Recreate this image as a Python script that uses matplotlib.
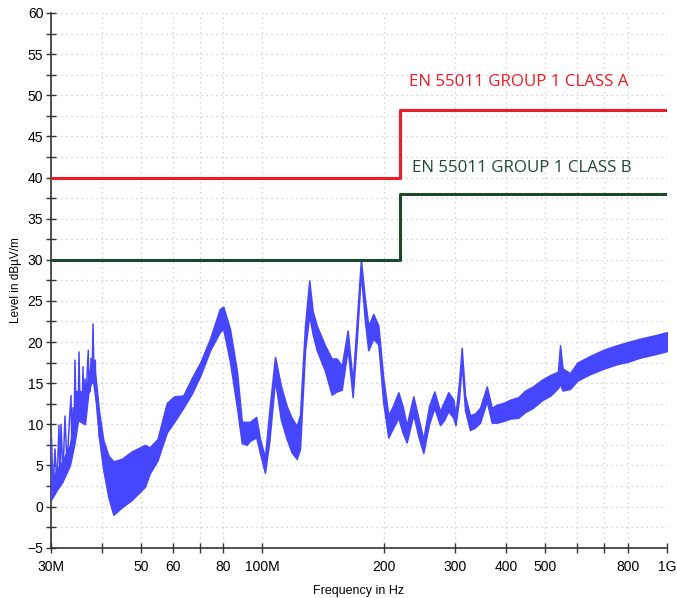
import numpy as np
import matplotlib
matplotlib.use('Agg')
import matplotlib.pyplot as plt
from matplotlib.ticker import FixedLocator, NullFormatter, MultipleLocator

# limit lines (MHz, dBuV/m)
limit_a_freq = [30, 219, 219, 1000]
limit_a_level = [40, 40, 48.2, 48.2]
limit_b_freq = [30, 219, 219, 1000]
limit_b_level = [30, 30, 38, 38]

# spiky start of the trace, 30-40 MHz (peaks and troughs)
spike_freq = [30.0, 30.09, 30.35, 30.69, 31.04, 31.40, 31.58, 31.76, 32.12, 32.49,
              32.86, 33.24, 33.62, 33.80, 34.01, 34.20, 34.40, 34.60, 34.79, 35.00,
              35.19, 35.40, 35.59, 35.80, 36.00, 36.20, 36.41, 36.60, 36.83, 37.10,
              37.25, 37.40, 37.50, 37.68, 37.90, 38.11, 38.30, 38.60, 38.80, 39.20,
              39.50]
spike_level = [0.8, 8.3, 1.8, 7.0, 2.5, 9.9, 3.5, 10.0, 4.0, 11.0,
               5.0, 9.5, 13.5, 6.5, 12.0, 8.0, 17.8, 10.0, 14.0, 10.5,
               18.8, 11.5, 14.0, 10.8, 17.0, 11.0, 15.5, 11.5, 16.0, 19.0,
               13.8, 16.0, 14.0, 18.0, 15.0, 22.2, 16.0, 17.8, 13.0, 11.7,
               8.5]

trace_freq = [30.0, 31.0, 32.0, 33.4, 34.3, 35.0, 36.4, 37.1, 38.0, 38.7,
              39.4, 40.4, 41.6, 42.8, 44.9, 47.5, 51.2, 52.6, 55.0, 58.0,
              60.5, 63.7, 67.0, 70.3, 74.2, 78.4, 80.0, 83.1, 86.5, 88.9,
              91.4, 93.1, 96.5, 98.6, 101.4, 104.0, 107.4, 111.0, 114.8, 118.0,
              121.5, 123.8, 127.4, 130.5, 133.0, 136.2, 142.7, 148.3, 152.6, 157.0,
              162.4, 167.1, 170.9, 175.1, 179.2, 182.6, 187.9, 193.4, 198.9, 204.7,
              210.0, 216.7, 222.0, 227.2, 236.0, 243.0, 249.8, 258.0, 266.0, 274.7,
              281.0, 288.0, 296.3, 300.0, 306.0, 310.8, 316.8, 325.8, 335.0, 345.0,
              358.5, 368.8, 380.0, 394.0, 410.0, 429.0, 446.0, 466.0, 490.0, 515.0,
              537.6, 544.0, 552.0, 575.7, 600.0, 645.0, 700.0, 751.0, 800.0, 857.0,
              930.0, 1000.0]
trace_lo = [0.8, 2.0, 3.0, 5.0, 7.7, 10.5, 10.0, 13.8, 15.7, 12.9,
            8.5, 4.5, 1.1, -1.0, -0.1, 0.8, 2.4, 4.0, 5.6, 9.0,
            10.3, 12.0, 13.8, 16.0, 19.0, 21.2, 21.6, 17.6, 12.0, 7.7,
            7.5, 8.0, 8.4, 6.5, 4.1, 8.0, 15.4, 10.6, 8.2, 6.6,
            5.8, 7.0, 19.0, 23.3, 21.0, 19.0, 16.5, 13.6, 14.0, 14.2,
            19.2, 13.3, 20.0, 28.4, 22.5, 19.0, 20.4, 19.7, 12.6, 8.4,
            9.5, 10.8, 9.0, 7.8, 11.2, 8.5, 6.5, 10.0, 12.0, 9.9,
            10.5, 11.6, 10.8, 9.9, 13.0, 17.4, 11.7, 9.3, 9.6, 10.2,
            12.8, 10.2, 10.2, 10.4, 10.7, 10.8, 11.5, 12.0, 12.9, 13.5,
            14.4, 14.9, 14.1, 14.3, 15.3, 16.1, 16.8, 17.3, 17.6, 18.1,
            18.5, 18.9]
trace_hi = [3.0, 4.5, 5.5, 7.5, 11.0, 13.0, 13.0, 16.0, 18.0, 15.5,
            11.7, 8.1, 6.2, 5.5, 5.8, 6.7, 7.5, 7.2, 8.2, 12.6,
            13.4, 13.5, 15.7, 17.6, 20.4, 24.0, 24.3, 21.6, 16.4, 10.3,
            10.3, 10.3, 10.9, 8.2, 6.0, 11.7, 18.2, 14.7, 12.2, 10.8,
            9.8, 11.1, 22.0, 27.5, 23.8, 22.0, 19.6, 18.0, 18.0, 17.1,
            21.4, 15.2, 22.2, 30.0, 25.2, 22.0, 23.4, 22.0, 15.6, 11.1,
            12.2, 13.9, 12.2, 9.9, 13.4, 10.7, 8.2, 12.2, 14.0, 11.6,
            12.7, 13.9, 13.0, 11.2, 15.0, 19.3, 13.5, 11.1, 11.3, 12.0,
            14.6, 12.0, 12.4, 12.6, 13.0, 13.3, 14.1, 14.6, 15.4, 16.0,
            16.4, 19.6, 16.8, 16.2, 17.5, 18.3, 19.1, 19.6, 20.0, 20.4,
            20.8, 21.2]

major_ticks = [30, 40, 50, 60, 70, 80, 100, 200, 300, 400, 500, 600, 700, 800, 1000]
tick_text = {30: '30M', 50: '50', 60: '60', 80: '80', 100: '100M', 200: '200',
             300: '300', 400: '400', 500: '500', 800: '800', 1000: '1G'}

fig = plt.figure(figsize=(6.77, 5.98), dpi=100)
ax = fig.add_axes([0.0753, 0.0841, 0.9099, 0.8942])

blue = '#4646ff'
ax.fill_between(trace_freq, trace_lo, trace_hi, color=blue, lw=1.1,
                edgecolor=blue, zorder=3)
ax.plot(spike_freq, spike_level, color=blue, lw=1.1, zorder=3)
ax.plot(limit_a_freq, limit_a_level, color='#ee1c25', lw=2.2, zorder=4)
ax.plot(limit_b_freq, limit_b_level, color='#1a4a2a', lw=2.2, zorder=4)

ax.text(230.3, 51.6, 'EN 55011 GROUP 1 CLASS A', color='#ee1c25', fontsize=12.2,
        family='Open Sans', va='center', ha='left')
ax.text(234.2, 41.1, 'EN 55011 GROUP 1 CLASS B', color='#1f4a30', fontsize=12.2,
        family='Open Sans', va='center', ha='left')

ax.set_xscale('log')
ax.set_xlim(30, 1000)
ax.set_ylim(-5, 60)
ax.xaxis.set_major_locator(FixedLocator(major_ticks))
ax.xaxis.set_minor_locator(FixedLocator([]))
ax.xaxis.set_minor_formatter(NullFormatter())
ax.set_xticklabels([tick_text.get(t, '') for t in major_ticks])
ax.yaxis.set_major_locator(MultipleLocator(5))
ax.yaxis.set_minor_locator(MultipleLocator(2.5))

for lab in ax.get_xticklabels() + ax.get_yticklabels():
    lab.set_family('Liberation Sans')
    lab.set_fontsize(10)
ax.tick_params(which='both', direction='inout', length=7, width=1, color='#333333')
ax.tick_params(axis='x', pad=5)
ax.tick_params(axis='y', pad=2)

ax.grid(True, which='major', axis='x', color='#c8c8c8', ls=(0, (1, 3)), lw=0.9)
ax.grid(True, which='both', axis='y', color='#c8c8c8', ls=(0, (1, 3)), lw=0.9)

for side in ['top', 'right']:
    ax.spines[side].set_visible(False)
for side in ['left', 'bottom']:
    ax.spines[side].set_color('#333333')
    ax.spines[side].set_linewidth(1.2)

ax.set_xlabel('Frequency in Hz', family='Liberation Sans', fontsize=9, labelpad=8)
ax.set_ylabel('Level in dB\u00b5V/m', family='Liberation Sans', fontsize=8.5, labelpad=4)

fig.savefig('out.png', dpi=100, facecolor='white')
